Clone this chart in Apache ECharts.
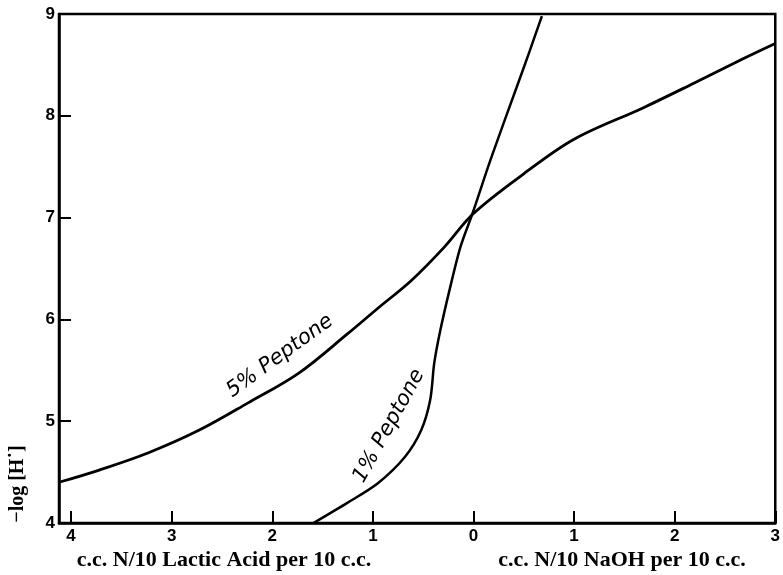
<!DOCTYPE html>
<html>
  <head>
    <meta http-equiv="Content-Type" content="text/html; charset=utf-8">
    <title>Peptone titration</title>
    <style>
      html, body { margin: 0; padding: 0; background: #fff; }
      #chart { width: 783px; height: 575px; }
    </style>
    <script src="https://cdn.jsdelivr.net/npm/echarts@6/dist/echarts.min.js"></script>
  </head>
  <body>
    <div id="chart"></div>
    <script type="text/javascript">
      // x: c.c. acid counted negative, c.c. NaOH positive
      var xTicks = [-4, -3, -2, -1, 0, 1, 2, 3];
      var yTicks = [4, 5, 6, 7, 8, 9];

      var pep5x = [-4.12, -3.72, -3.23, -2.73, -2.24, -1.74, -1.25, -0.95, -0.62, -0.29, 0, 0.5, 1.0, 1.69, 2.19, 2.68, 3.0];
      var pep5y = [4.40, 4.52, 4.69, 4.91, 5.18, 5.47, 5.86, 6.11, 6.38, 6.71, 7.04, 7.43, 7.77, 8.08, 8.32, 8.56, 8.71];

      var pep1x = [-1.59, -1.25, -0.95, -0.68, -0.52, -0.43, -0.39, -0.33, -0.24, -0.13, -0.01, 0.17, 0.44, 0.56, 0.68];
      var pep1y = [4.0, 4.20, 4.39, 4.65, 4.91, 5.21, 5.57, 5.89, 6.28, 6.71, 7.04, 7.57, 8.31, 8.64, 8.98];

      function pairs(xs, ys) {
        return xs.map(function (x, i) { return [x, ys[i]]; });
      }

      var tickFont = { color: '#000', fontSize: 17, fontFamily: 'Liberation Sans', fontWeight: 'bold' };

      var myChart = echarts.init(document.getElementById('chart'));
      myChart.setOption({
        animation: false,
        grid: {
          left: 59, right: 4, top: 14, bottom: 52,
          show: true, borderColor: '#000', borderWidth: 2.5, backgroundColor: 'transparent'
        },
        xAxis: {
          type: 'value', min: -4.12, max: 3,
          splitLine: { show: false },
          axisLine: { show: true, onZero: false, lineStyle: { color: '#000', width: 2.5 } },
          axisTick: { show: true, inside: true, length: 12, customValues: xTicks, lineStyle: { color: '#000', width: 2 } },
          axisLabel: Object.assign({
            customValues: xTicks, margin: 5,
            formatter: function (v) { return String(Math.abs(v)); }
          }, tickFont)
        },
        yAxis: {
          type: 'value', min: 4, max: 9, interval: 1,
          splitLine: { show: false },
          axisLine: { show: true, onZero: false, lineStyle: { color: '#000', width: 2.5 } },
          axisTick: { show: true, inside: true, length: 12, lineStyle: { color: '#000', width: 2 } },
          axisLabel: Object.assign({ margin: 4 }, tickFont)
        },
        series: [
          {
            name: '5% Peptone', type: 'line', smooth: 0.35, symbol: 'none',
            lineStyle: { color: '#000', width: 2.8 },
            data: pairs(pep5x, pep5y)
          },
          {
            name: '1% Peptone', type: 'line', smooth: 0.3, symbol: 'none',
            lineStyle: { color: '#000', width: 2.5 },
            data: pairs(pep1x, pep1y)
          }
        ],
        graphic: [
          {
            type: 'text', x: 280, y: 356, rotation: 36 * Math.PI / 180,
            style: { text: '5% Peptone', font: 'italic 21px "DejaVu Sans"', fill: '#000', align: 'center', verticalAlign: 'middle' }
          },
          {
            type: 'text', x: 389, y: 426, rotation: 61 * Math.PI / 180,
            style: { text: '1% Peptone', font: 'italic 21px "DejaVu Sans"', fill: '#000', align: 'center', verticalAlign: 'middle' }
          },
          {
            type: 'text', x: 224, y: 560,
            style: { text: 'c.c. N/10 Lactic Acid per 10 c.c.', font: 'bold 22px "Liberation Serif"', fill: '#000', align: 'center', verticalAlign: 'middle' }
          },
          {
            type: 'text', x: 622, y: 560,
            style: { text: 'c.c. N/10 NaOH per 10 c.c.', font: 'bold 22px "Liberation Serif"', fill: '#000', align: 'center', verticalAlign: 'middle' }
          },
          {
            type: 'text', x: 18, y: 484, rotation: Math.PI / 2,
            style: { text: '\u2212log [H\u02D9]', font: 'bold 20px "Liberation Serif"', fill: '#000', align: 'center', verticalAlign: 'middle' }
          }
        ]
      });
    </script>
  </body>
</html>
